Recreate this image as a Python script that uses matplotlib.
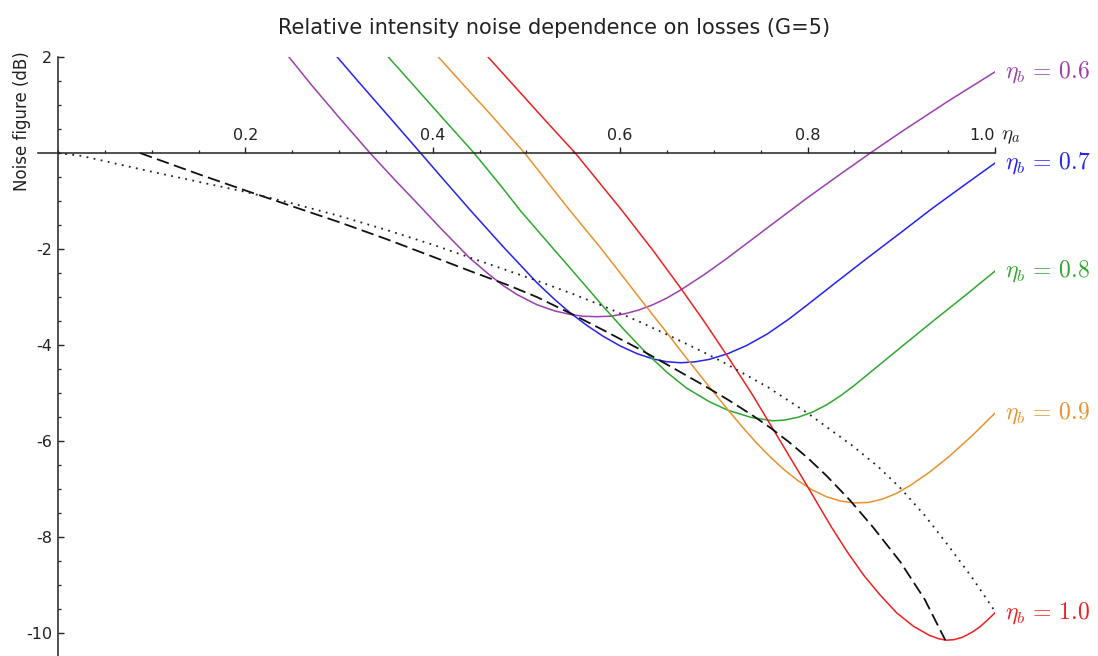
import matplotlib
matplotlib.use("Agg")
import matplotlib.pyplot as plt
from matplotlib.ticker import MultipleLocator, FixedLocator

plt.rcParams['font.family'] = ['DejaVu Sans']
plt.rcParams['mathtext.fontset'] = 'cm'

# noise figure (dB) against eta_a, one curve per eta_b
x_06 = [0.2465, 0.27, 0.30, 0.333, 0.36, 0.383, 0.41, 0.44, 0.46, 0.475, 0.49, 0.511,
        0.53, 0.546, 0.56, 0.575, 0.59, 0.605, 0.62, 0.635, 0.65, 0.664, 0.69, 0.715,
        0.757, 0.80, 0.835, 0.867, 0.90, 0.95, 1.0]
nf_06 = [2.0, 1.43, 0.74, 0.0, -0.57, -1.04, -1.6, -2.2, -2.53, -2.76, -2.95, -3.16,
         -3.29, -3.36, -3.4, -3.41, -3.4, -3.35, -3.27, -3.16, -3.02, -2.86, -2.53, -2.18,
         -1.56, -0.93, -0.44, 0.0, 0.44, 1.08, 1.69]

x_07 = [0.298, 0.32, 0.35, 0.387, 0.41, 0.44, 0.475, 0.511, 0.53, 0.546, 0.565, 0.582,
        0.60, 0.618, 0.635, 0.65, 0.665, 0.68, 0.695, 0.715, 0.735, 0.757, 0.78, 0.80,
        0.83, 0.863, 0.90, 0.934, 0.97, 1.0]
nf_07 = [2.0, 1.5, 0.83, 0.0, -0.52, -1.19, -1.95, -2.7, -3.05, -3.32, -3.6, -3.82,
         -4.02, -4.18, -4.29, -4.35, -4.37, -4.35, -4.3, -4.18, -4.01, -3.77, -3.46, -3.16,
         -2.7, -2.2, -1.65, -1.14, -0.63, -0.21]

x_08 = [0.3525, 0.38, 0.41, 0.444, 0.475, 0.493, 0.528, 0.56, 0.582, 0.605, 0.628,
        0.65, 0.671, 0.695, 0.715, 0.74, 0.763, 0.775, 0.79, 0.805, 0.82, 0.835, 0.85,
        0.87, 0.90, 0.934, 0.97, 1.0]
nf_08 = [2.0, 1.4, 0.74, 0.0, -0.74, -1.19, -1.98, -2.7, -3.2, -3.7, -4.17,
         -4.57, -4.9, -5.18, -5.36, -5.51, -5.58, -5.565, -5.505, -5.4, -5.25, -5.06, -4.84,
         -4.52, -4.04, -3.5, -2.94, -2.46]

x_09 = [0.406, 0.43, 0.46, 0.498, 0.529, 0.546, 0.578, 0.60, 0.625, 0.646, 0.671,
        0.693, 0.715, 0.73, 0.745, 0.76, 0.775, 0.79, 0.805, 0.82, 0.835, 0.85, 0.865,
        0.88, 0.895, 0.91, 0.93, 0.95, 0.975, 1.0]
nf_09 = [2.0, 1.48, 0.84, 0.0, -0.77, -1.19, -1.95, -2.5, -3.13, -3.65, -4.28,
         -4.82, -5.35, -5.7, -6.03, -6.33, -6.6, -6.83, -7.02, -7.16, -7.25, -7.29, -7.28,
         -7.21, -7.09, -6.92, -6.65, -6.34, -5.9, -5.42]

x_10 = [0.459, 0.49, 0.52, 0.552, 0.582, 0.602, 0.635, 0.664, 0.69, 0.715, 0.74,
        0.76, 0.78, 0.803, 0.825, 0.842, 0.86, 0.877, 0.895, 0.913, 0.93, 0.94, 0.948,
        0.956, 0.965, 0.975, 0.984, 0.992, 1.0]
nf_10 = [2.0, 1.33, 0.68, 0.0, -0.72, -1.2, -2.03, -2.8, -3.52, -4.25, -5.0,
         -5.65, -6.3, -7.05, -7.78, -8.3, -8.8, -9.2, -9.58, -9.86, -10.05, -10.12, -10.15,
         -10.14, -10.09, -9.99, -9.87, -9.73, -9.58]

x_dash = [0.0875, 0.15, 0.2, 0.25, 0.3, 0.35, 0.4, 0.44, 0.48, 0.511, 0.55, 0.582, 0.62,
          0.653, 0.69, 0.715, 0.74, 0.76, 0.78, 0.8, 0.82, 0.845, 0.87, 0.899, 0.925, 0.947]
nf_dash = [0.0, -0.44, -0.78, -1.11, -1.44, -1.79, -2.16, -2.46, -2.75, -3.0, -3.37, -3.69,
           -4.08, -4.44, -4.85, -5.14, -5.45, -5.72, -6.02, -6.35, -6.72, -7.23, -7.8, -8.52,
           -9.3, -10.15]

x_dot = [0.0, 0.025, 0.05, 0.075, 0.1, 0.15, 0.2, 0.25, 0.3, 0.35, 0.4, 0.44, 0.48, 0.511,
         0.55, 0.582, 0.62, 0.653, 0.69, 0.71, 0.757, 0.8, 0.848, 0.875, 0.899, 0.925, 0.949,
         0.975, 1.0]
nf_dot = [0.0, -0.06, -0.17, -0.28, -0.39, -0.6, -0.81, -1.05, -1.31, -1.6, -1.91, -2.18,
          -2.45, -2.66, -2.94, -3.19, -3.51, -3.81, -4.16, -4.36, -4.87, -5.42, -6.1, -6.53,
          -6.98, -7.55, -8.15, -8.83, -9.55]

eta_b = ['0.6', '0.7', '0.8', '0.9', '1.0']
colors = ['#9b3fae', '#2323f0', '#2ea82e', '#e8922e', '#ee2020']

fig = plt.figure(figsize=(10.98, 6.56), dpi=100)
ax = fig.add_axes([38 / 1098, 0.0, 957 / 1098, 1 - 57 / 656])

curves = [(x_06, nf_06), (x_07, nf_07), (x_08, nf_08), (x_09, nf_09), (x_10, nf_10)]
for (xs, ys), c, lab in zip(curves, colors, eta_b):
    ax.plot(xs, ys, color=c, lw=1.1)
    ax.annotate(r'$\eta_b\,=\,%s$' % lab, xy=(xs[-1], ys[-1]), xytext=(7, 0),
                textcoords='offset points', ha='left', va='center',
                color=c, fontsize=17, annotation_clip=False)

ax.plot(x_dash, nf_dash, color='#111111', lw=1.3, linestyle=(0, (7, 3)))
ax.plot(x_dot, nf_dot, color='#222222', lw=1.3, linestyle=(0, (1, 3)))

ax.set_xlim(-0.0213, 1.0)
ax.set_ylim(-(656 - 153) / 48, 2.0)

ax.spines['left'].set_position(('data', 0))
ax.spines['bottom'].set_position(('data', 0))
ax.spines['top'].set_visible(False)
ax.spines['right'].set_visible(False)
for s in ['left', 'bottom']:
    ax.spines[s].set_linewidth(1.1)
    ax.spines[s].set_color('#222222')

ax.xaxis.set_major_locator(FixedLocator([0.2, 0.4, 0.6, 0.8, 1.0]))
ax.xaxis.set_minor_locator(MultipleLocator(0.05))
ax.yaxis.set_major_locator(FixedLocator([2, -2, -4, -6, -8, -10]))
ax.yaxis.set_minor_locator(MultipleLocator(0.5))
ax.xaxis.set_major_formatter(plt.FuncFormatter(lambda v, p: '%.1f' % v))
ax.yaxis.set_major_formatter(plt.FuncFormatter(lambda v, p: '%d' % v))

ax.tick_params(axis='x', which='both', direction='in', pad=-18, labelsize=11.5, colors='#222222')
ax.tick_params(axis='y', which='both', direction='in', pad=4, labelsize=11.5, colors='#222222')
ax.tick_params(which='major', length=4.5, width=1.0)
ax.tick_params(which='minor', length=2.5, width=0.9)

# the last x label sits left of its tick, leaving room for the axis name
fig.canvas.draw()
ax.get_xticklabels()[-1].set_horizontalalignment('right')

ax.annotate(r'$\eta_a$', xy=(1.0, 0), xytext=(4, 12), textcoords='offset points',
            ha='left', va='center', fontsize=15, color='#222222', annotation_clip=False)

fig.text(0.505, 0.958, 'Relative intensity noise dependence on losses (G=5)',
         ha='center', va='center', fontsize=15, color='#222222')
fig.text(0.02, 1 - 121 / 656, 'Noise figure (dB)', rotation=90,
         ha='center', va='center', fontsize=12, color='#222222')

fig.savefig('out.png', dpi=100)
